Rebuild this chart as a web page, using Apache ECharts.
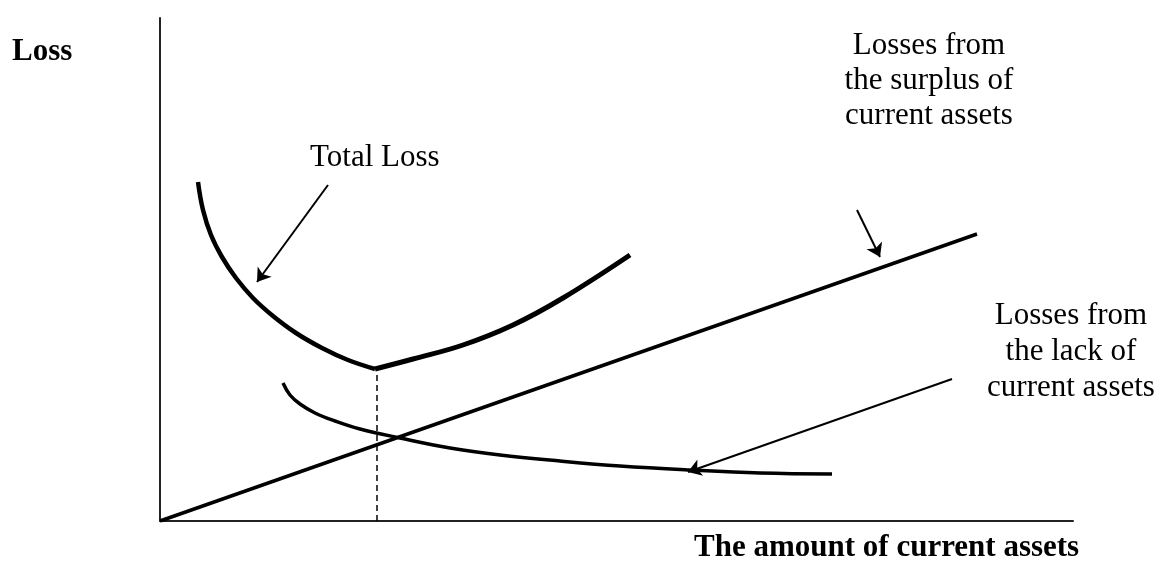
<!DOCTYPE html>
<html>
<head>
<meta charset="utf-8">
<script src="https://cdn.jsdelivr.net/npm/echarts@6/dist/echarts.min.js"></script>
<style>
  html, body { margin: 0; padding: 0; background: #fff; }
  #chart { width: 1161px; height: 566px; }
</style>
</head>
<body>
<div id="chart"></div>
<script>
// schematic values (arbitrary units along each axis)
const totalLossLeft = [[38,339],[43,311],[51,286],[62,264],[76,243],[93,223],[113,205],[136,188],[162,173],[188,161],[215,152]];
const totalLossRight = [[215,152],[253,162],[303,176],[353,196],[403,223],[470,266]];
const surplusLoss = [[0,0],[817,287]];
const lackLoss = [[123,138],[130,126],[140,117],[155,108],[175,100],[200,92],[240,83],[290,73],[340,66],[400,60],[460,55],[530,51],[600,48],[672,47]];
const optimum = [[217,0],[217,151]];
// pointer arrows: [tail, tip]
const arrowTotal = [[168,336],[97,239]];
const arrowSurplus = [[697,311],[720,264]];
const arrowLack = [[792,142],[528,49]];

const serif = '"Liberation Serif", "Times New Roman", serif';

const myChart = echarts.init(document.getElementById('chart'));
const options = {
  animation: false,
  grid: { left: 160, top: 18, right: 88, bottom: 45, containLabel: false },
  xAxis: {
    type: 'value', min: 0, max: 913,
    axisLine: { show: true, onZero: false, lineStyle: { color: '#222', width: 2 } },
    axisTick: { show: false }, axisLabel: { show: false }, splitLine: { show: false }
  },
  yAxis: {
    type: 'value', min: 0, max: 503,
    axisLine: { show: true, onZero: false, lineStyle: { color: '#222', width: 2 } },
    axisTick: { show: false }, axisLabel: { show: false }, splitLine: { show: false }
  },
  series: [
    { type: 'line', data: totalLossLeft, smooth: 0.4, symbol: 'none',
      lineStyle: { color: '#000', width: 4.5 } },
    { type: 'line', data: totalLossRight, smooth: 0.4, symbol: 'none',
      lineStyle: { color: '#000', width: 5 } },
    { type: 'line', data: surplusLoss, symbol: 'none',
      lineStyle: { color: '#000', width: 3.5 } },
    { type: 'line', data: lackLoss, smooth: 0.4, symbol: 'none',
      lineStyle: { color: '#000', width: 3.5 } },
    { type: 'lines', coordinateSystem: 'cartesian2d', symbol: ['none', 'none'],
      lineStyle: { color: '#000', width: 1.5, type: [6, 4], opacity: 1 },
      data: [{ coords: optimum }] },
    { type: 'lines', coordinateSystem: 'cartesian2d', symbol: ['none', 'arrow'], symbolSize: 13,
      lineStyle: { color: '#000', width: 2, opacity: 1 },
      data: [{ coords: arrowTotal }, { coords: arrowSurplus }, { coords: arrowLack }] }
  ],
  graphic: [
    { type: 'text', left: 12, top: 36, style: { text: 'Loss', font: 'bold 31px ' + serif, fill: '#000' } },
    { type: 'text', left: 310, top: 142, style: { text: 'Total Loss', font: '31px ' + serif, fill: '#000' } },
    { type: 'text', x: 929, y: 28, style: { text: 'Losses from\nthe surplus of\ncurrent assets',
      font: '31px ' + serif, fill: '#000', align: 'center', verticalAlign: 'top', lineHeight: 35 } },
    { type: 'text', x: 1071, y: 298, style: { text: 'Losses from\nthe lack of\ncurrent assets',
      font: '31px ' + serif, fill: '#000', align: 'center', verticalAlign: 'top', lineHeight: 36 } },
    { type: 'text', left: 694, top: 532, style: { text: 'The amount of current assets', font: 'bold 31px ' + serif, fill: '#000' } }
  ]
};
myChart.setOption(options, true);
window.addEventListener('resize', function () {
  myChart.resize();
});
</script>
</body>
</html>
